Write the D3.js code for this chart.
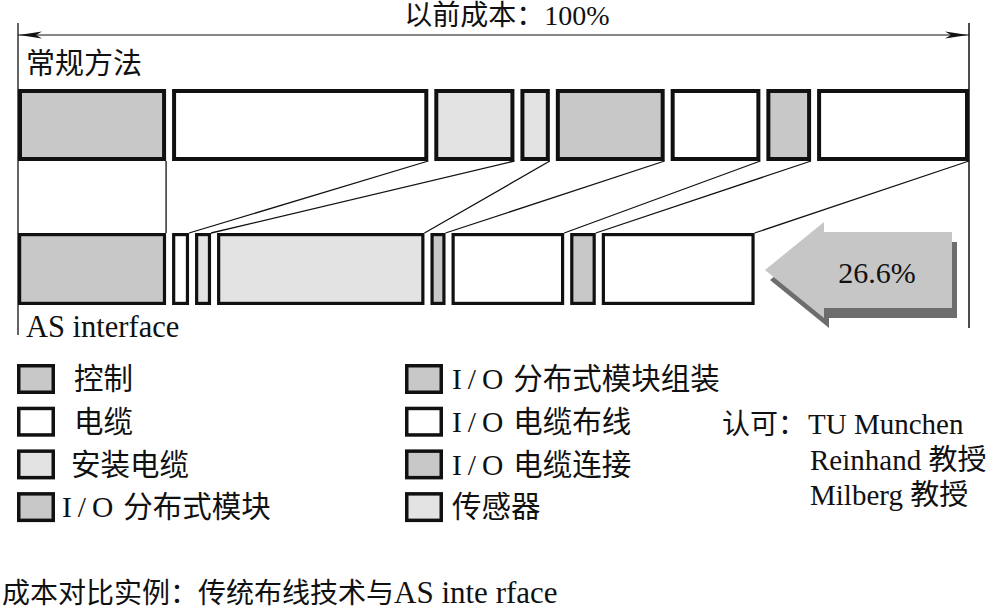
<!DOCTYPE html>
<html>
<head>
<meta charset="utf-8">
<script src="https://cdn.jsdelivr.net/npm/d3@7"></script>
<style>
  body { margin: 0; background: #fff; }
  text { font-family: "Liberation Serif", "Noto Sans CJK SC", serif; fill: #111; }
</style>
</head>
<body>
<div id="chart"></div>
<script>
// cost shares, % of the old (conventional) total
var conventional = [16.1, 27.4, 9.0, 3.7, 12.0, 10.0, 5.3, 16.5];
var asInterface = [16.1, 2.4, 2.3, 22.3, 2.2, 12.4, 3.3, 16.6];
var segShade = ['dark', 'white', 'light', 'light', 'dark', 'white', 'dark', 'white'];

var legendLeft = ['控制', '电缆', '安装电缆', 'I/O分布式模块'];
var legendLeftShade = ['dark', 'white', 'light', 'dark'];
var legendRight = ['I/O分布式模块组装', 'I/O电缆布线', 'I/O电缆连接', '传感器'];
var legendRightShade = ['dark', 'white', 'dark', 'light'];

var credits = ['TU Munchen', 'Reinhand 教授', 'Milberg 教授'];
var savingLabel = '26.6%';

var W = 991, H = 611;
var svg = d3.select('#chart').append('svg')
  .attr('width', W).attr('height', H);

var x = d3.scaleLinear().domain([0, 100]).range([15, 972]);
var shade = d3.scaleOrdinal()
  .domain(['dark', 'light', 'white'])
  .range(['#c8c8c8', '#e3e3e3', '#ffffff']);

var gap = 3;
function layout(vals) {
  var cum = 0;
  return vals.map(function(v, i) {
    var d = {i: i, v: v, x0: x(cum) + gap, x1: x(cum + v) - gap};
    cum += v;
    return d;
  });
}
var topBars = layout(conventional);
var botBars = layout(asInterface);

var rowTop = {y: 89, h: 72, sw: 4};
var rowBot = {y: 233, h: 72, sw: 3.2};

// dimension lines
var xl = x(0) + gap, xr = x(100) - gap;
svg.append('line').attr('x1', xl).attr('x2', xl).attr('y1', 23).attr('y2', 335)
  .attr('stroke', '#111').attr('stroke-width', 1.3);
svg.append('line').attr('x1', xr).attr('x2', xr).attr('y1', 23).attr('y2', 328)
  .attr('stroke', '#111').attr('stroke-width', 1.5);
svg.append('line').attr('x1', xl).attr('x2', xr).attr('y1', 35).attr('y2', 35)
  .attr('stroke', '#111').attr('stroke-width', 1.2);
svg.append('path').attr('d', 'M' + (xl + 1) + ',35 L' + (xl + 24) + ',31.5 L' + (xl + 18) + ',35 L' + (xl + 24) + ',38.5Z')
  .attr('fill', '#111');
svg.append('path').attr('d', 'M' + (xr - 1) + ',35 L' + (xr - 24) + ',31.5 L' + (xr - 18) + ',35 L' + (xr - 24) + ',38.5Z')
  .attr('fill', '#111');

svg.append('text').attr('x', 507).attr('y', 25).attr('text-anchor', 'middle')
  .style('font-size', '28px').text('以前成本：100%');
svg.append('text').attr('x', 26).attr('y', 74)
  .style('font-size', '29px').text('常规方法');

// connectors from the old bars to the new ones
svg.append('g').selectAll('line')
  .data(topBars)
  .enter().append('line')
  .attr('x1', function(d) { return d.x1; })
  .attr('y1', rowTop.y + rowTop.h)
  .attr('x2', function(d) { return botBars[d.i].x1; })
  .attr('y2', rowBot.y)
  .attr('stroke', '#111')
  .attr('stroke-width', 1.3);

function drawRow(bars, row) {
  svg.append('g').selectAll('rect')
    .data(bars)
    .enter().append('rect')
    .attr('x', function(d) { return d.x0 + row.sw / 2; })
    .attr('y', row.y + row.sw / 2)
    .attr('width', function(d) { return d.x1 - d.x0 - row.sw; })
    .attr('height', row.h - row.sw)
    .attr('fill', function(d) { return shade(segShade[d.i]); })
    .attr('stroke', '#111')
    .attr('stroke-width', row.sw);
}
drawRow(topBars, rowTop);
drawRow(botBars, rowBot);

svg.append('text').attr('x', 26).attr('y', 337)
  .style('font-size', '30.5px').text('AS interface');

// big arrow with shadow
var ax = 765, ay = 270;
function arrowPath(dx, dy) {
  var p = [[ax, ay], [ax + 59, ay - 48], [ax + 59, ay - 38], [ax + 187, ay - 38],
           [ax + 187, ay + 38], [ax + 59, ay + 38], [ax + 59, ay + 48]];
  return 'M' + p.map(function(q) { return (q[0] + dx) + ',' + (q[1] + dy); }).join('L') + 'Z';
}
svg.append('path').attr('d', arrowPath(5, 10)).attr('fill', '#6d6d6d');
svg.append('path').attr('d', arrowPath(0, 0)).attr('fill', '#c6c6c6');
svg.append('text').attr('x', 877).attr('y', 272).attr('dy', '0.35em')
  .attr('text-anchor', 'middle').style('font-size', '30px').text(savingLabel);

// legend
function label(sel, s) {
  var m = s.match(/^I\/O(.*)$/);
  if (m) {
    sel.append('tspan').style('letter-spacing', '6px').text('I/O');
    sel.append('tspan').attr('dx', 4).text(m[1]);
  } else {
    sel.text(s);
  }
}
function drawLegend(items, shades, bx, tx) {
  var g = svg.append('g');
  items.forEach(function(s, i) {
    var cy = 379 + i * 42.7;
    g.append('rect').attr('x', bx + 1.75).attr('y', cy - 15 + 1.75)
      .attr('width', 34.5).attr('height', 26.5)
      .attr('fill', shade(shades[i])).attr('stroke', '#111').attr('stroke-width', 3.5);
    var t = g.append('text').attr('y', cy).attr('dy', '0.35em')
      .attr('x', typeof tx === 'function' ? tx(s) : tx)
      .style('font-size', '29.5px');
    label(t, s);
  });
}
drawLegend(legendLeft, legendLeftShade, 17, function(s) {
  return s.indexOf('I/O') === 0 ? 62 : (s.length > 2 ? 71 : 74);
});
drawLegend(legendRight, legendRightShade, 405, 452);

// credits
svg.append('text').attr('x', 722).attr('y', 424).attr('dy', '0.35em')
  .style('font-size', '28px').text('认可：');
svg.selectAll('.credit')
  .data(credits)
  .enter().append('text')
  .attr('class', 'credit')
  .attr('x', function(d, i) { return i === 0 ? 808 : 810; })
  .attr('y', function(d, i) { return 424 + i * 35.5; })
  .attr('dy', '0.35em')
  .style('font-size', '29px')
  .text(function(d) { return d; });

var cap = svg.append('text').attr('x', 2).attr('y', 593).attr('dy', '0.35em')
  .style('font-size', '28px');
cap.append('tspan').text('成本对比实例：传统布线技术与');
cap.append('tspan').style('font-size', '31px').text('AS inte rface');
</script>
</body>
</html>
